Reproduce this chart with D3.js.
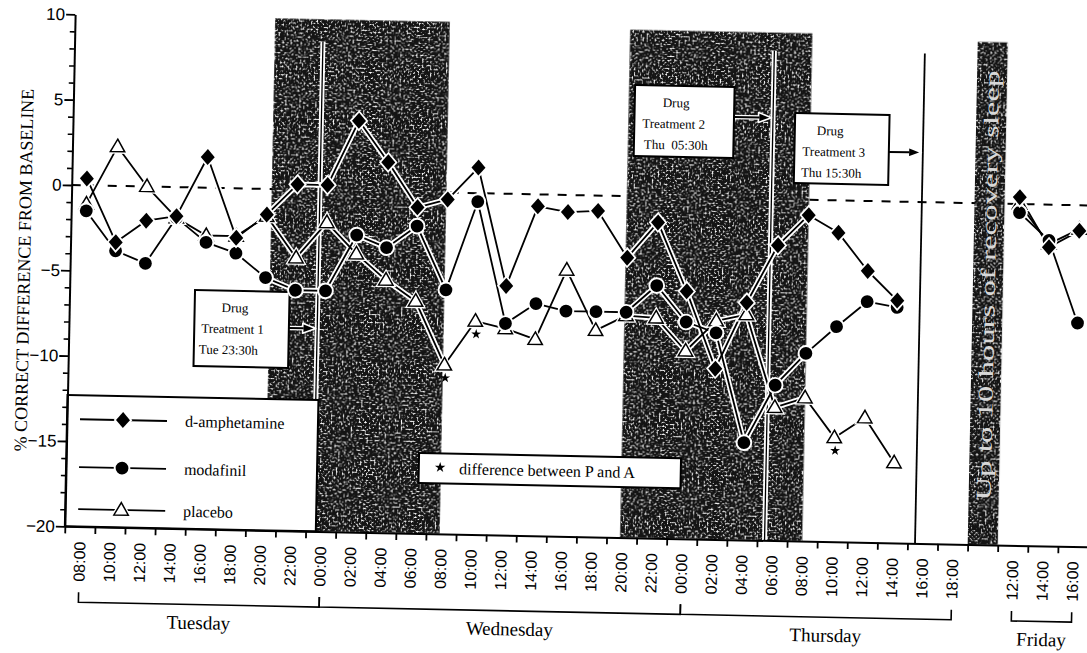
<!DOCTYPE html>
<html>
<head>
<meta charset="utf-8">
<script src="https://cdn.jsdelivr.net/npm/d3@7"></script>
<style>
  html, body { margin: 0; padding: 0; background: #fff; }
  svg { display: block; }
</style>
</head>
<body>
<svg id="chart" width="1087" height="653"></svg>
<script>
// ---- data -------------------------------------------------------------
// Two-hourly test sessions; "gap" is the break before Friday.
const slots = [
  "Tue 08:00","Tue 10:00","Tue 12:00","Tue 14:00","Tue 16:00","Tue 18:00","Tue 20:00","Tue 22:00",
  "Wed 00:00","Wed 02:00","Wed 04:00","Wed 06:00","Wed 08:00","Wed 10:00","Wed 12:00","Wed 14:00",
  "Wed 16:00","Wed 18:00","Wed 20:00","Wed 22:00",
  "Thu 00:00","Thu 02:00","Thu 04:00","Thu 06:00","Thu 08:00","Thu 10:00","Thu 12:00","Thu 14:00",
  "Thu 16:00","Thu 18:00",
  "gap",
  "Fri 12:00","Fri 14:00","Fri 16:00"
];

// % correct difference from baseline
const amphetamine = [
  0.4, -3.3, -2.0, -1.7, 1.8, -2.9, -1.5, 0.3,
  0.3, 4.1, 1.7, -0.9, -0.4, 1.5, -5.4, -0.7, -1.0, -0.9, -3.6, -1.5,
  -5.5, -10.0, -6.1, -2.7, -0.9, -1.9, -4.1, -5.8, null, null,
  null,
  0.4, -2.5, -1.5
];
const modafinil = [
  -1.5, -3.8, -4.5, -1.8, -3.2, -3.8, -5.2, -5.9,
  -5.9, -2.6, -3.3, -2.0, -5.7, -0.5, -7.6, -6.4, -6.8, -6.8, -6.8, -5.2,
  -7.3, -7.9, -14.3, -10.9, -9.0, -7.4, -5.9, -6.2, null, null,
  null,
  -0.5, -2.1, -6.9
];
const placebo = [
  -1.1, 2.3, 0.0, -1.8, -2.8, -2.8, -1.6, -4.0,
  -1.9, -3.7, -5.2, -6.4, -10.1, -7.5, -7.9, -8.5, -4.4, -7.9, -7.0, -7.1,
  -9.0, -7.2, -6.8, -12.2, -11.6, -13.9, -12.7, -15.3, null, null,
  null,
  0.0, -2.3, -1.4
];
// sessions with a placebo / d-amphetamine difference
const starSlots = ["Wed 08:00", "Wed 10:00", "Thu 10:00"];

const yTicks = [10, 5, 0, -5, -10, -15, -20];
const seriesNames = ["d-amphetamine", "modafinil", "placebo"];

const dayNames = ["Tuesday", "Wednesday", "Thursday", "Friday"];
const dayFrom  = ["Tue 08:00", "Wed 00:00", "Thu 00:00", "Fri 12:00"];
const dayTo    = ["Wed 00:00", "Thu 00:00", "Thu 18:00", "Fri 16:00"];

// night (sleep-deprivation) periods, hours from Tue 00:00, and their top
const nightFrom = [20.3, 43.9];
const nightTo   = [31.9, 56.0];
const nightTop  = [10, 9.75];
const recoveryTop = 9.45;
const recoveryText = "Up to 10 hours of recovery sleep";

// drug administrations, hours from Tue 00:00
const doseHours = [23.5, 53.5, 63.5];
const doseText = [
  ["Drug", "Treatment 1", "Tue 23:30h"],
  ["Drug", "Treatment 2", "Thu  05:30h"],
  ["Drug", "Treatment 3", "Thu 15:30h"]
];
const doseLineTop = 8.7;
const starNote = "difference between P and A";

// ---- drawing ----------------------------------------------------------
const svg = d3.select("#chart");
const serif = "'Liberation Serif', 'Times New Roman', serif";
const sans = "'Liberation Sans', Arial, sans-serif";

const defs = svg.append("defs");
const f = defs.append("filter").attr("id", "speckle")
  .attr("x", 0).attr("y", 0).attr("width", 1).attr("height", 1)
  .attr("color-interpolation-filters", "sRGB");
f.append("feTurbulence").attr("type", "fractalNoise").attr("baseFrequency", 0.5)
  .attr("numOctaves", 3).attr("seed", 11).attr("result", "noise");
f.append("feColorMatrix").attr("in", "noise").attr("type", "matrix")
  .attr("values", "0 0 0 0 1  0 0 0 0 1  0 0 0 0 1  4.5 0 0 0 -2.3").attr("result", "specks");
f.append("feComposite").attr("in", "specks").attr("in2", "SourceGraphic")
  .attr("operator", "in").attr("result", "clip");
const fm = f.append("feMerge");
fm.append("feMergeNode").attr("in", "SourceGraphic");
fm.append("feMergeNode").attr("in", "clip");

// the page sits slightly tilted, as the printed sheet did
const root = svg.append("g").attr("transform", "rotate(1.15,70,270)");

const x = d3.scaleBand().domain(slots).range([70, 70 + 34 * 30.1]).padding(0);
const cx = s => x(s) + x.bandwidth() / 2;
const xHour = d3.scaleLinear().domain([8, 66]).range([cx("Tue 08:00"), cx("Thu 18:00")]);
const xEdge = d3.scaleLinear().domain([0, slots.length]).range(x.range());
const y = d3.scaleLinear().domain([-20, 10]).range([526.4, 14.3]);

// zero reference line
root.append("line")
  .attr("x1", 70).attr("x2", x.range()[1]).attr("y1", y(0)).attr("y2", y(0))
  .attr("stroke", "#000").attr("stroke-width", 2).attr("stroke-dasharray", "9,9");

// night bands
nightFrom.forEach((h, i) => {
  root.append("rect")
    .attr("x", xHour(h)).attr("width", xHour(nightTo[i]) - xHour(h))
    .attr("y", y(nightTop[i])).attr("height", y(-20) - y(nightTop[i]))
    .attr("fill", "#141414").attr("filter", "url(#speckle)");
});
// recovery sleep band in the break slot
root.append("rect")
  .attr("x", x("gap")).attr("width", x.bandwidth())
  .attr("y", y(recoveryTop)).attr("height", y(-20) - y(recoveryTop))
  .attr("fill", "#141414").attr("filter", "url(#speckle)");
root.append("text")
  .attr("transform", `translate(${cx("gap")},${(y(recoveryTop) + y(-20)) / 2 - 8}) rotate(-90)`)
  .attr("text-anchor", "middle").attr("dominant-baseline", "central")
  .attr("font-family", serif).attr("font-size", 21).attr("fill", "#d8d8d8")
  .attr("textLength", 430).attr("lengthAdjust", "spacingAndGlyphs")
  .text(recoveryText);

// drug administration lines
doseHours.forEach((h, i) => {
  const xx = xHour(h);
  if (i < 2) {
    root.append("line").attr("x1", xx).attr("x2", xx).attr("y1", y(doseLineTop)).attr("y2", y(-20))
      .attr("stroke", "#fff").attr("stroke-width", 5);
    root.append("line").attr("x1", xx).attr("x2", xx).attr("y1", y(doseLineTop)).attr("y2", y(-20))
      .attr("stroke", "#000").attr("stroke-width", 1.3);
  } else {
    root.append("line").attr("x1", xx).attr("x2", xx).attr("y1", y(doseLineTop)).attr("y2", y(-20))
      .attr("stroke", "#000").attr("stroke-width", 1.8);
  }
});

// dose annotation boxes with arrows to the dose lines
const boxLayout = [
  { x: 195.4, y: 287.5, w: 94.6, h: 76, arrowDy: 36, indent: [27, 7, 5] },
  { x: 631.3, y: 73.7,  w: 99.5, h: 71, arrowDy: 30, indent: [28, 8, 10] },
  { x: 791.9, y: 98.5,  w: 94.4, h: 70, arrowDy: 37, indent: [22, 8, 7] }
];
boxLayout.forEach((b, i) => {
  const ax = xHour(doseHours[i]) - 1.5;
  const ay = b.y + b.arrowDy;
  const headLen = 13, headHalf = 5;
  root.append("line").attr("x1", b.x + b.w).attr("x2", ax - headLen + 1).attr("y1", ay).attr("y2", ay)
    .attr("stroke", "#fff").attr("stroke-width", 4.5);
  root.append("path")
    .attr("d", `M${ax},${ay} L${ax - headLen},${ay - headHalf} L${ax - headLen},${ay + headHalf} Z`)
    .attr("fill", "#000").attr("stroke", "#fff").attr("stroke-width", 1.6).attr("stroke-linejoin", "round");
  root.append("line").attr("x1", b.x + b.w).attr("x2", ax - headLen + 1).attr("y1", ay).attr("y2", ay)
    .attr("stroke", "#000").attr("stroke-width", 2);
  root.append("rect").attr("x", b.x).attr("y", b.y).attr("width", b.w).attr("height", b.h)
    .attr("fill", "#fff").attr("stroke", "#000").attr("stroke-width", 2);
  doseText[i].forEach((t, k) => {
    root.append("text").attr("x", b.x + b.indent[k]).attr("y", b.y + 17 + k * 21)
      .attr("dominant-baseline", "central").attr("font-family", serif)
      .attr("font-size", 13).attr("fill", "#000").attr("xml:space", "preserve").text(t);
  });
});

// star note box
root.append("rect").attr("x", 422.7).attr("y", 446).attr("width", 262).attr("height", 30)
  .attr("fill", "#fff").attr("stroke", "#000").attr("stroke-width", 2);
root.append("path").attr("d", d3.symbol(d3.symbolStar, 34)())
  .attr("transform", "translate(444,460)").attr("fill", "#000");
root.append("text").attr("x", 463).attr("y", 461).attr("dominant-baseline", "central")
  .attr("font-family", serif).attr("font-size", 16).text(starNote);

// series legend box
root.append("rect").attr("x", 70).attr("y", 395).attr("width", 251).attr("height", y(-20) - 395)
  .attr("fill", "#fff").attr("stroke", "#000").attr("stroke-width", 2);

// ---- markers ----
const diamond = "M0,-8 L7,0 L0,8 L-7,0 Z";
const triangle = "M0,-7.5 L7.2,5 L-7.2,5 Z";
function drawMarker(g, kind, px, py) {
  if (kind === "circle") {
    g.append("circle").attr("cx", px).attr("cy", py).attr("r", 6.6)
      .attr("fill", "#fff").attr("stroke", "#fff").attr("stroke-width", 3.5);
    g.append("circle").attr("cx", px).attr("cy", py).attr("r", 6.4).attr("fill", "#000");
  } else if (kind === "diamond") {
    g.append("path").attr("d", diamond).attr("transform", `translate(${px},${py})`)
      .attr("fill", "#fff").attr("stroke", "#fff").attr("stroke-width", 3.5);
    g.append("path").attr("d", diamond).attr("transform", `translate(${px},${py})`).attr("fill", "#000");
  } else {
    g.append("path").attr("d", triangle).attr("transform", `translate(${px},${py})`)
      .attr("fill", "#fff").attr("stroke", "#fff").attr("stroke-width", 4);
    g.append("path").attr("d", triangle).attr("transform", `translate(${px},${py})`)
      .attr("fill", "#fff").attr("stroke", "#000").attr("stroke-width", 1.5);
  }
}

// legend entries
const legendKinds = ["diamond", "circle", "triangle"];
const legendY = [419, 467, 509];
seriesNames.forEach((n, i) => {
  root.append("line").attr("x1", 83).attr("x2", 170).attr("y1", legendY[i]).attr("y2", legendY[i])
    .attr("stroke", "#000").attr("stroke-width", 1.8);
  drawMarker(root, legendKinds[i], 126, legendY[i]);
  root.append("text").attr("x", 188).attr("y", legendY[i]).attr("dominant-baseline", "central")
    .attr("font-family", serif).attr("font-size", 16).text(n);
});

// ---- series ----
const series = [
  { values: placebo, kind: "triangle" },
  { values: modafinil, kind: "circle" },
  { values: amphetamine, kind: "diamond" }
];
const line = d3.line().defined(d => d.v != null).x(d => cx(d.s)).y(d => y(d.v));
const rows = s => slots.map((k, i) => ({ s: k, v: s.values[i] }));

const lines = root.append("g").attr("fill", "none");
series.forEach(s => {
  lines.append("path").attr("d", line(rows(s))).attr("stroke", "#fff").attr("stroke-width", 5.5)
    .attr("stroke-linejoin", "round");
});
series.forEach(s => {
  lines.append("path").attr("d", line(rows(s))).attr("stroke", "#000").attr("stroke-width", 1.8)
    .attr("stroke-linejoin", "round");
});
const marks = root.append("g");
series.forEach(s => {
  rows(s).filter(d => d.v != null).forEach(d => drawMarker(marks, s.kind, cx(d.s), y(d.v)));
});
starSlots.forEach(k => {
  const v = placebo[slots.indexOf(k)];
  root.append("path").attr("d", d3.symbol(d3.symbolStar, 30)())
    .attr("transform", `translate(${cx(k) + 1},${y(v) + 13})`).attr("fill", "#000");
});

// ---- axes ----
const yAxis = root.append("g").attr("transform", "translate(70,0)")
  .call(d3.axisLeft(y).tickValues(yTicks).tickSize(9).tickSizeOuter(0).tickPadding(1));
yAxis.select(".domain").attr("stroke-width", 2);
yAxis.selectAll(".tick line").attr("stroke-width", 1.8);
yAxis.selectAll("text").attr("font-family", sans).attr("font-size", 17).attr("fill", "#000");
root.append("g").attr("transform", "translate(70,0)")
  .call(d3.axisLeft(y).tickValues(d3.range(-20, 11).filter(v => v % 5 !== 0)).tickSize(5).tickFormat(""))
  .call(g => g.select(".domain").remove())
  .selectAll(".tick line").attr("stroke-width", 1.6);

const xBase = y(-20);
root.append("g").attr("transform", `translate(0,${xBase})`)
  .call(d3.axisBottom(xEdge).tickValues(d3.range(0, slots.length + 1)).tickSize(7).tickSizeOuter(0).tickFormat(""))
  .call(g => g.select(".domain").attr("stroke-width", 2))
  .selectAll(".tick line").attr("stroke-width", 1.8);
const xl = root.append("g").attr("transform", `translate(0,${xBase})`)
  .call(d3.axisBottom(x).tickSize(0).tickFormat(d => d === "gap" ? "" : d.slice(4)));
xl.select(".domain").remove();
xl.selectAll("text")
  .attr("transform", "rotate(-90)").attr("x", -15).attr("y", 0).attr("dy", "0.36em")
  .attr("text-anchor", "end").attr("font-family", sans).attr("font-size", 16).attr("fill", "#000");

// day brackets
const brY = 602;
dayNames.forEach((n, i) => {
  const a = cx(dayFrom[i]), b = cx(dayTo[i]);
  root.append("path").attr("d", `M${a},${brY - 10} V${brY} H${b} V${brY - 10}`)
    .attr("fill", "none").attr("stroke", "#000").attr("stroke-width", 1.6);
  root.append("text").attr("x", (a + b) / 2 + (i === 1 || i === 2 ? 10 : 0)).attr("y", brY + 18)
    .attr("dominant-baseline", "central")
    .attr("text-anchor", "middle").attr("font-family", serif).attr("font-size", 19).text(n);
});

// y title
root.append("text").attr("transform", "translate(24,271) rotate(-90)")
  .attr("text-anchor", "middle").attr("dominant-baseline", "central")
  .attr("font-family", serif).attr("font-size", 18).text("% CORRECT DIFFERENCE FROM BASELINE");
</script>
</body>
</html>
